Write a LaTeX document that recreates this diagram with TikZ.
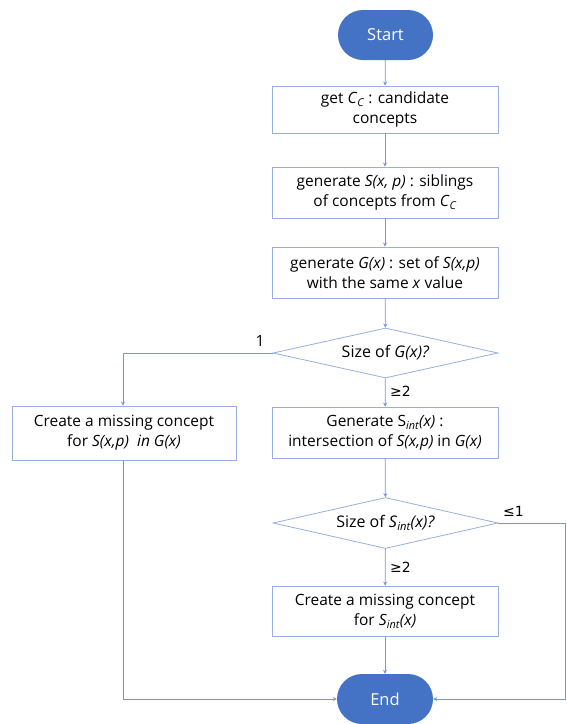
\documentclass[tikz,border=0pt]{standalone}
\usepackage{fontspec}
\setmainfont{Open Sans}
\newfontfamily\dv{DejaVu Sans}
\usetikzlibrary{shapes.geometric,arrows.meta}
\definecolor{lineblue}{RGB}{120,150,210}
\definecolor{boxblue}{RGB}{150,175,222}
\definecolor{termblue}{RGB}{68,114,196}
\newcommand{\sbs}[1]{\textsubscript{\itshape #1}}
\tikzset{
  term/.style={rectangle,rounded corners=25pt,fill=termblue,text=white,minimum width=95pt,minimum height=50pt,font=\fontsize{16.5}{20}\selectfont},
  proc/.style={rectangle,draw=boxblue,line width=0.8pt,minimum width=226pt,minimum height=50pt,align=center,font=\fontsize{15.5}{20}\selectfont,inner xsep=0pt,inner ysep=2pt},
  dec/.style={diamond,draw=boxblue,line width=0.8pt,minimum width=225pt,minimum height=50pt,aspect=4.5,inner sep=0pt,font=\fontsize{16}{19}\selectfont},
  conn/.style={draw=lineblue,line width=0.8pt,-{Stealth[length=4pt,width=4pt]}},
  lbl/.style={font=\fontsize{15.5}{18}\selectfont,inner sep=0pt}
}
\begin{document}
\begin{tikzpicture}[x=1pt,y=1pt]
\useasboundingbox (0,0) rectangle (566,-724);
\node[term] (start) at (385.5,-35) {Start};
\node[proc,minimum height=47pt] (b1) at (385,-109.5) {get \textit{C}\sbs{C} : candidate\\concepts};
\node[proc,minimum height=51pt] (b2) at (385,-192.5) {generate \textit{S(x, p)} : siblings\\of concepts from \textit{C}\sbs{C}};
\node[proc,minimum height=51pt] (b3) at (385,-272.5) {generate \textit{G(x)} : set of \textit{S(x,p)}\\with the same \textit{x} value};
\node[dec] (d1) at (385.5,-353) {Size of \textit{G(x)?}};
\node[proc,minimum height=51pt] (b4) at (385,-432.5) {Generate S\sbs{int}\textit{(x)} :\\intersection of \textit{S(x,p)} in \textit{G(x)}};
\node[proc,minimum width=224pt,minimum height=54pt] (bl) at (124,-433) {Create a missing concept\\for \textit{S(x,p)\ \ in G(x)}};
\node[dec,minimum height=51pt] (d2) at (385.5,-523) {Size of \textit{S}\sbs{int}\textit{(x)?}};
\node[proc,minimum height=50pt] (b5) at (385,-611) {Create a missing concept\\for \textit{S}\sbs{int}\textit{(x)}};
\node[term,minimum width=96pt] (end) at (385,-699) {End};
\coordinate (cl1) at (123,-353);
\coordinate (cl2) at (123,-699);
\coordinate (cr1) at (565.5,-523);
\coordinate (cr2) at (565.5,-699);
\draw[conn] (start) -- (b1);
\draw[conn] (b1) -- (b2);
\draw[conn] (b2) -- (b3);
\draw[conn] (b3) -- (d1);
\draw[conn] (d1) -- (b4);
\draw[conn] (d1.west) -- (cl1) -- (cl1 |- bl.north);
\draw[conn] (b4) -- (d2);
\draw[conn] (d2) -- (b5);
\draw[conn] (b5) -- (end);
\draw[conn] (cl1 |- bl.south) -- (cl2) -- (end.west);
\draw[conn] (d2.east) -- (cr1) -- (cr2) -- (end.east);
\node[lbl] (l1) at (260,-341) {1};
\node[lbl,anchor=west] (l2) at (390,-391) {\dv\fontsize{14}{17}\selectfont ≥2};
\node[lbl,anchor=west] (l3) at (503,-511) {\dv\fontsize{14}{17}\selectfont ≤1};
\node[lbl,anchor=west] (l4) at (390,-567) {\dv\fontsize{14}{17}\selectfont ≥2};
\end{tikzpicture}
\end{document}
